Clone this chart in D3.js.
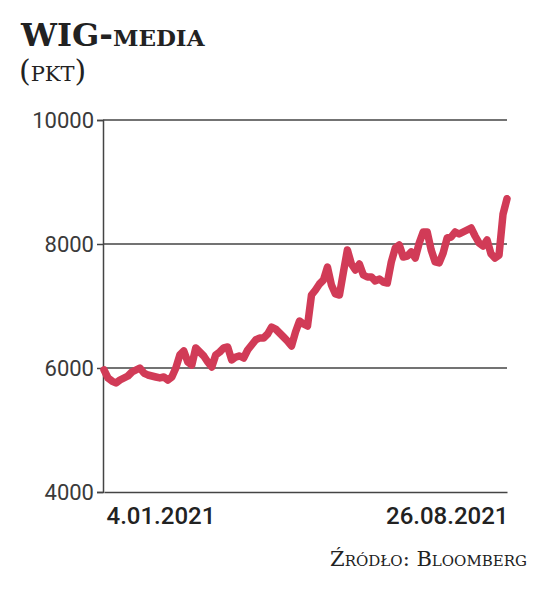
<!DOCTYPE html>
<html><head><meta charset="utf-8">
<script src="https://cdn.jsdelivr.net/npm/d3@7"></script>
<style>html,body{margin:0;padding:0;background:#fff;}</style>
</head><body>
<svg id="c" width="551" height="593"></svg>
<script>
const values = [5970,5839,5790,5758,5806,5839,5871,5935,5968,6000,5919,5887,5871,5855,5839,5855,5806,5855,6000,6210,6274,6097,6048,6323,6258,6194,6097,6016,6210,6258,6323,6339,6129,6177,6194,6161,6290,6371,6452,6484,6484,6548,6661,6629,6565,6500,6435,6355,6581,6758,6710,6677,7177,7258,7355,7419,7629,7339,7194,7177,7548,7903,7677,7581,7677,7500,7468,7468,7403,7435,7387,7371,7710,7935,7984,7790,7806,7871,7774,8016,8194,8194,7903,7710,7694,7855,8097,8113,8194,8161,8194,8226,8258,8129,8016,7968,8065,7839,7774,7820,8480,8730];
const yTicks = [4000,6000,8000,10000];
const gridValues = [6000,8000,10000];
const xLabels = ["4.01.2021","26.08.2021"];
const titleMain = "WIG";
const titleSub = "-media";
const unitText = "(pkt)";
const sourceText = "Źródło: Bloomberg";

const svg = d3.select("#c");
const L = 103, R = 507, T = 120, B = 492;
const x = d3.scaleLinear().domain([0, values.length-1]).range([L+1, R]);
const y = d3.scaleLinear().domain([4000,10000]).range([B, T]);

// title
const t = svg.append("text").attr("x",21).attr("y",46)
  .attr("font-family","DejaVu Serif").attr("font-weight","bold").attr("fill","#222");
t.append("tspan").attr("font-size",32).text(titleMain);
t.append("tspan").attr("font-size",33).style("font-variant","small-caps").text(titleSub);
svg.append("text").attr("x",19).attr("y",81)
  .attr("font-family","DejaVu Serif").attr("font-size",30).attr("fill","#222")
  .style("font-variant","small-caps").text(unitText);

// grid
svg.append("g").selectAll("line").data(gridValues).join("line")
  .attr("x1",L).attr("x2",R).attr("y1",d=>y(d)).attr("y2",d=>y(d))
  .attr("stroke","#444").attr("stroke-width",1.5);

// y axis
const ya = svg.append("g").attr("transform",`translate(${L},0)`)
  .call(d3.axisLeft(y).tickValues(yTicks).tickSize(6).tickPadding(3).tickFormat(d3.format("d")));
ya.select(".domain").attr("stroke","#444").attr("stroke-width",1.5);
ya.selectAll(".tick line").attr("stroke","#444").attr("stroke-width",1.5);
ya.selectAll(".tick text").attr("font-family","Roboto").attr("font-size",22)
  .attr("fill","#3a3a3a").attr("dy","0.36em");

// x axis
const xa = svg.append("g").attr("transform",`translate(0,${B})`)
  .call(d3.axisBottom(x).tickValues([0, values.length-1]).tickSize(0).tickPadding(0)
    .tickFormat((d,i)=>xLabels[i]));
xa.select(".domain").attr("stroke","#444").attr("stroke-width",1.5);
xa.selectAll(".tick text").attr("font-family","Roboto").attr("font-weight",500)
  .attr("font-size",24).attr("fill","#222").attr("dy","1.35em")
  .attr("text-anchor",(d,i)=>i===0?"start":"end")
  .attr("dx",(d,i)=>i===0?2:1);

// line
svg.append("path").datum(values)
  .attr("d", d3.line().x((d,i)=>x(i)).y(d=>y(d)))
  .attr("fill","none").attr("stroke","#d13b57").attr("stroke-width",7.5)
  .attr("stroke-linejoin","round").attr("stroke-linecap","round");

// source
svg.append("text").attr("x",527).attr("y",566).attr("text-anchor","end")
  .attr("font-family","DejaVu Serif").attr("font-size",21).attr("fill","#222")
  .style("font-variant","small-caps").text(sourceText);
</script>
</body></html>
